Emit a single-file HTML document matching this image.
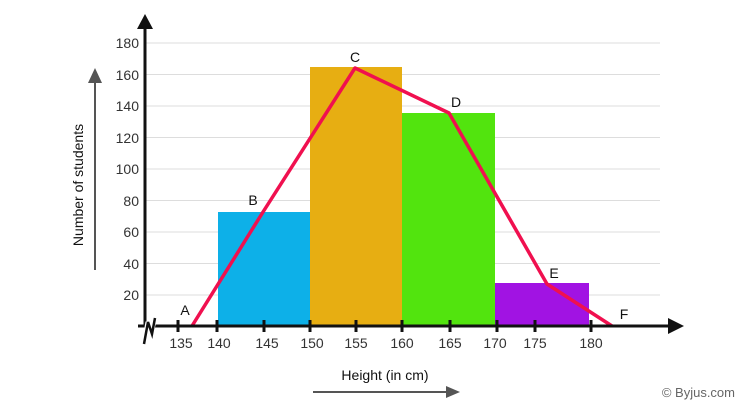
<!DOCTYPE html>
<html><head><style>body{margin:0;background:#fff}svg{display:block}</style></head><body>
<svg width="750" height="412" xmlns="http://www.w3.org/2000/svg" font-family="Liberation Sans, Arial, sans-serif">
<g stroke="#ddd" stroke-width="1">
<line x1="145" y1="43" x2="660" y2="43"/><line x1="145" y1="74.5" x2="660" y2="74.5"/><line x1="145" y1="106" x2="660" y2="106"/><line x1="145" y1="137.5" x2="660" y2="137.5"/><line x1="145" y1="169" x2="660" y2="169"/><line x1="145" y1="200.5" x2="660" y2="200.5"/><line x1="145" y1="232" x2="660" y2="232"/><line x1="145" y1="263.5" x2="660" y2="263.5"/><line x1="145" y1="295" x2="660" y2="295"/>
</g>
<g font-size="14" fill="#333" text-anchor="end">
<text x="139" y="48">180</text><text x="139" y="80">160</text><text x="139" y="111">140</text><text x="139" y="143">120</text><text x="139" y="174">100</text><text x="139" y="206">80</text><text x="139" y="237">60</text><text x="139" y="269">40</text><text x="139" y="300">20</text>
</g>
<rect x="218" y="212" width="92" height="114" fill="#0db0e8"/>
<rect x="310" y="67" width="92" height="259" fill="#e7ae12"/>
<rect x="402" y="113" width="93" height="213" fill="#52e40e"/>
<rect x="495" y="283" width="94" height="43" fill="#a113e3"/>
<polyline points="192,326 263,212 355,68 449,113 547,284 612,326" fill="none" stroke="#f0104f" stroke-width="3.5" stroke-linejoin="round"/>
<line x1="145" y1="326" x2="145" y2="28" stroke="#111" stroke-width="3"/>
<polygon points="145,14 137,29 153,29" fill="#111"/>
<line x1="150" y1="326" x2="670" y2="326" stroke="#111" stroke-width="3"/>
<line x1="138" y1="326" x2="146" y2="326" stroke="#111" stroke-width="3"/>
<polygon points="684,326 668,318 668,334" fill="#111"/>
<polyline points="144,344 148,322 151,334 155,316" fill="none" stroke="#fff" stroke-width="5"/>
<polyline points="144,344 148,322 152,334 155,318" fill="none" stroke="#111" stroke-width="2.5"/>
<g stroke="#111" stroke-width="3">
<line x1="178" y1="320" x2="178" y2="332"/><line x1="217" y1="320" x2="217" y2="332"/><line x1="264" y1="320" x2="264" y2="332"/><line x1="310" y1="320" x2="310" y2="332"/><line x1="356" y1="320" x2="356" y2="332"/><line x1="402" y1="320" x2="402" y2="332"/><line x1="450" y1="320" x2="450" y2="332"/><line x1="497" y1="320" x2="497" y2="332"/><line x1="535" y1="320" x2="535" y2="332"/><line x1="591" y1="320" x2="591" y2="332"/>
</g>
<g font-size="14" fill="#333" text-anchor="middle">
<text x="181" y="348">135</text><text x="219" y="348">140</text><text x="267" y="348">145</text><text x="312" y="348">150</text><text x="356" y="348">155</text><text x="402" y="348">160</text><text x="450" y="348">165</text><text x="495" y="348">170</text><text x="535" y="348">175</text><text x="591" y="348">180</text>
</g>
<g font-size="14" fill="#111" text-anchor="middle">
<text x="185" y="315">A</text><text x="253" y="205">B</text><text x="355" y="62">C</text><text x="456" y="107">D</text><text x="554" y="278">E</text><text x="624" y="319">F</text>
</g>
<text transform="translate(83,185) rotate(-90)" font-size="14" fill="#111" text-anchor="middle">Number of students</text>
<line x1="95" y1="270" x2="95" y2="82" stroke="#555" stroke-width="2"/>
<polygon points="95,68 88,83 102,83" fill="#555"/>
<text x="385" y="380" font-size="14" fill="#111" text-anchor="middle">Height (in cm)</text>
<line x1="313" y1="392" x2="447" y2="392" stroke="#555" stroke-width="2"/>
<polygon points="460,392 446,386 446,398" fill="#555"/>
<text x="735" y="397" font-size="13" fill="#666" text-anchor="end">© Byjus.com</text>
</svg>
</body></html>
